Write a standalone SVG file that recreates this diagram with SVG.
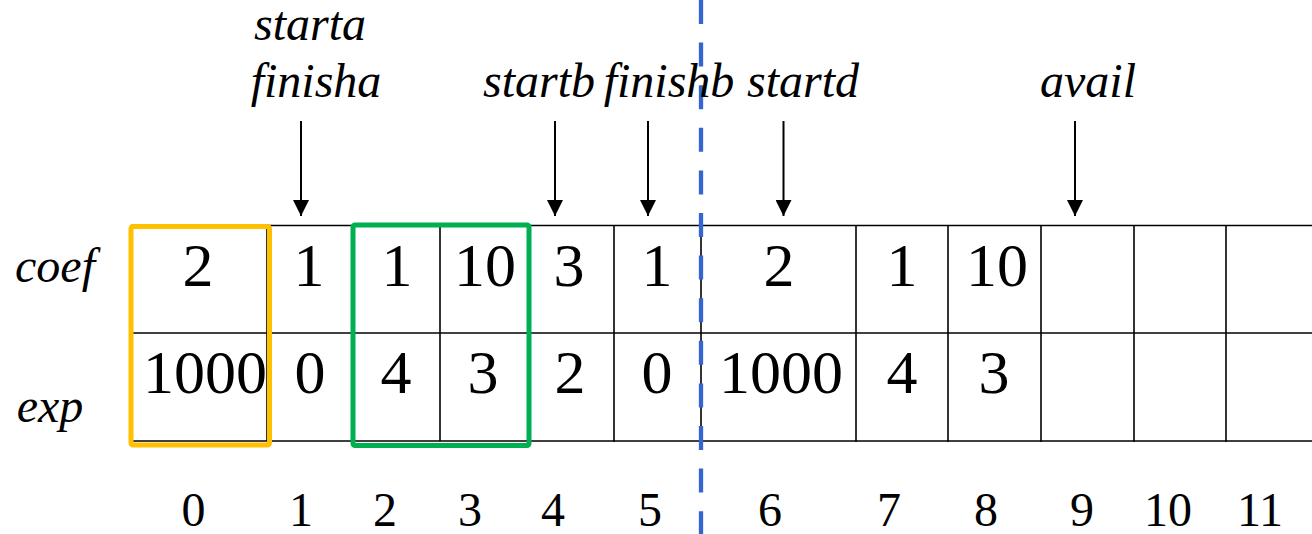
<svg xmlns="http://www.w3.org/2000/svg" width="1312" height="534" viewBox="0 0 1312 534">
<style>
.grid{stroke:#000;stroke-width:1.6;fill:none}
.num{font-size:62px;fill:#000;text-anchor:middle}
.idx{font-size:48px;fill:#000;text-anchor:middle}
.lbl{font-style:italic;font-size:48px;fill:#000;text-anchor:middle}
.arr{stroke:#000;stroke-width:2;fill:none;marker-end:url(#ah)}
</style>
<defs>
<marker id="ah" markerUnits="userSpaceOnUse" markerWidth="16" markerHeight="16" refX="16" refY="8" orient="auto" viewBox="0 0 16 16">
<path d="M0,0 L16,8 L0,16 Z" fill="#000"/>
</marker>
</defs>
<rect width="1312" height="534" fill="#fff"/>
<g id="grid">
<line class="grid" x1="131" y1="225.5" x2="1312" y2="225.5"/>
<line class="grid" x1="131" y1="333" x2="1312" y2="333"/>
<line class="grid" x1="131" y1="441" x2="1312" y2="441"/>
<line class="grid" x1="131" y1="225" x2="131" y2="441"/>
<line class="grid" x1="267" y1="225" x2="267" y2="441"/>
<line class="grid" x1="353" y1="225" x2="353" y2="441"/>
<line class="grid" x1="440" y1="225" x2="440" y2="441"/>
<line class="grid" x1="529" y1="225" x2="529" y2="441"/>
<line class="grid" x1="614" y1="225" x2="614" y2="442"/>
<line class="grid" x1="701" y1="225" x2="701" y2="442"/>
<line class="grid" x1="856" y1="225" x2="856" y2="442"/>
<line class="grid" x1="948" y1="225" x2="948" y2="442"/>
<line class="grid" x1="1041" y1="225" x2="1041" y2="442"/>
<line class="grid" x1="1134" y1="225" x2="1134" y2="442"/>
<line class="grid" x1="1226" y1="225" x2="1226" y2="442"/>
</g>
<g id="cells" font-family="Liberation Serif, Tinos, Times New Roman, Times, Noto Serif, DejaVu Serif, serif">
<text class="num" x="198" y="286">2</text>
<text class="num" x="309" y="286">1</text>
<text class="num" x="397" y="286">1</text>
<text class="num" x="485" y="286">10</text>
<text class="num" x="569" y="286">3</text>
<text class="num" x="657" y="286">1</text>
<text class="num" x="779" y="286">2</text>
<text class="num" x="902" y="286">1</text>
<text class="num" x="997" y="286">10</text>
<text class="num" x="205" y="393">1000</text>
<text class="num" x="310" y="393">0</text>
<text class="num" x="396" y="393">4</text>
<text class="num" x="483" y="393">3</text>
<text class="num" x="570" y="393">2</text>
<text class="num" x="657" y="393">0</text>
<text class="num" x="781" y="393">1000</text>
<text class="num" x="902" y="393">4</text>
<text class="num" x="994" y="393">3</text>
</g>
<g id="highlight-a">
<rect x="131" y="226.5" width="138.5" height="218.5" rx="2" fill="none" stroke="#FFC000" stroke-width="5"/>
</g>
<g id="highlight-b">
<rect x="353" y="225" width="176" height="220.5" rx="2" fill="none" stroke="#00B050" stroke-width="5"/>
</g>
<g id="divider">
<line x1="701" y1="0" x2="701" y2="534" stroke="#3366D0" stroke-width="4.3" stroke-dasharray="24 18.6"/>
</g>
<g id="row-labels" font-family="Liberation Serif, Tinos, Times New Roman, Times, Noto Serif, DejaVu Serif, serif">
<text class="lbl" x="55" y="282">coef</text>
<text class="lbl" x="50" y="422">exp</text>
</g>
<g id="pointer-labels" font-family="Liberation Serif, Tinos, Times New Roman, Times, Noto Serif, DejaVu Serif, serif">
<text class="lbl" x="310" y="40">starta</text>
<text class="lbl" x="316" y="97">finisha</text>
<text class="lbl" x="539" y="97">startb</text>
<text class="lbl" x="669" y="97">finishb</text>
<text class="lbl" x="803" y="97">startd</text>
<text class="lbl" x="1088" y="97">avail</text>
</g>
<g id="connectors">
<line class="arr" x1="301" y1="121" x2="301" y2="216"/>
<line class="arr" x1="555" y1="121" x2="555" y2="216"/>
<line class="arr" x1="648" y1="121" x2="648" y2="216"/>
<line class="arr" x1="783.5" y1="121" x2="783.5" y2="216"/>
<line class="arr" x1="1075" y1="121" x2="1075" y2="216"/>
</g>
<g id="indices" font-family="Liberation Serif, Tinos, Times New Roman, Times, Noto Serif, DejaVu Serif, serif">
<text class="idx" x="193.5" y="526">0</text>
<text class="idx" x="301" y="526">1</text>
<text class="idx" x="385" y="526">2</text>
<text class="idx" x="470" y="526">3</text>
<text class="idx" x="553" y="526">4</text>
<text class="idx" x="650" y="526">5</text>
<text class="idx" x="770" y="526">6</text>
<text class="idx" x="889" y="526">7</text>
<text class="idx" x="986" y="526">8</text>
<text class="idx" x="1082" y="526">9</text>
<text class="idx" x="1168" y="526">10</text>
<text class="idx" x="1260" y="526">11</text>
</g>
</svg>
